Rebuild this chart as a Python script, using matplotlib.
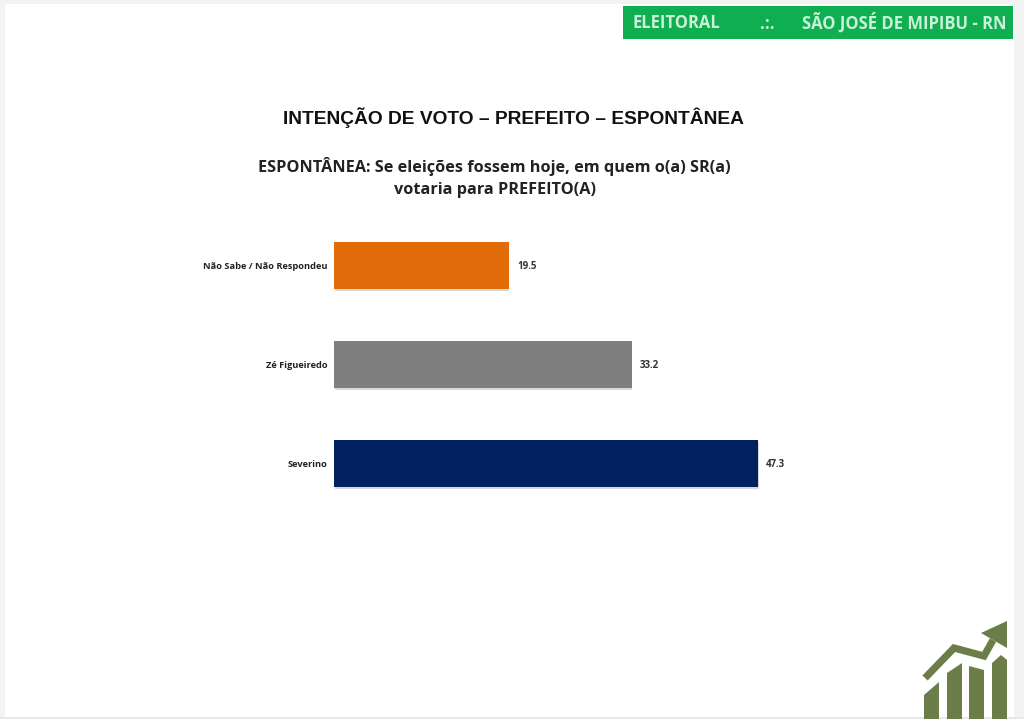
#!/usr/bin/env python3
"""Voting intention slide: spontaneous mayor poll, Sao Jose de Mipibu."""
import matplotlib
matplotlib.use("Agg")
import matplotlib.pyplot as plt
import matplotlib.patheffects as pe
from matplotlib.patches import Polygon, Rectangle

W, H = 1024, 719

categories = ["Severino", "Zé Figueiredo", "Não Sabe / Não Respondeu"]
values = [47.3, 33.2, 19.5]
colors = ["#002060", "#7f7f7f", "#e36c0a"]

title = "INTENÇÃO DE VOTO – PREFEITO – ESPONTÂNEA"
subtitle = "ESPONTÂNEA: Se eleições fossem hoje, em quem o(a) SR(a)\nvotaria para PREFEITO(A)"
banner_left = "ELEITORAL"
banner_mid = ".:."
banner_right = "SÃO JOSÉ DE MIPIBU - RN"

plt.rcParams["font.family"] = ["Open Sans", "DejaVu Sans"]

fig = plt.figure(figsize=(W / 100, H / 100), dpi=100, facecolor="white")

# page layer, works in image pixels (y down)
page = fig.add_axes([0, 0, 1, 1])
page.set_xlim(0, W)
page.set_ylim(H, 0)
page.axis("off")

# grey frame of the screenshot
page.add_patch(Rectangle((0, 0), 5, H, color="#f3f3f3", lw=0))
page.add_patch(Rectangle((1014, 0), 10, H, color="#f3f3f3", lw=0))
page.add_patch(Rectangle((0, 0), W, 4, color="#f3f3f3", lw=0))
page.add_patch(Rectangle((0, 717), W, 2, color="#e8e8e8", lw=0))

# green banner
page.add_patch(Rectangle((623, 6), 390, 33, color="#0fae50", lw=0))
page.text(632, 23, banner_left, color="#c9f2d8", fontsize=12, fontweight="bold", va="center")
page.text(767, 24, banner_mid, color="#c9f2d8", fontsize=12, fontweight="bold", va="center", ha="center")
page.text(1006, 23, banner_right, color="#c9f2d8", fontsize=12, fontweight="bold", va="center", ha="right")

page.text(513.5, 118, title, family=["Liberation Sans"], fontsize=13.8, fontweight="bold",
          color="#111111", ha="center", va="center")
page.text(494.5, 177.5, subtitle, fontsize=11.7, fontweight="bold", color="#222222",
          ha="center", va="center", linespacing=1.55)

# logo, bottom right
olive = "#6b7d48"
for pts in [
    [(924, 719), (924, 695), (939, 682), (939, 719)],
    [(947, 719), (947, 673), (962, 663), (962, 719)],
    [(969, 719), (969, 666), (984, 670), (984, 719)],
    [(992, 719), (992, 663), (1001, 655), (1007, 660), (1007, 719)],
]:
    page.add_patch(Polygon(pts, closed=True, color=olive, lw=0))
page.plot([925, 954, 984, 993], [678, 648, 656, 640], color=olive, lw=5.2,
          solid_joinstyle="miter", solid_capstyle="butt")
page.add_patch(Polygon([(981, 633), (1007, 621), (1007, 648)], closed=True, color=olive, lw=0))

# bar chart: 8.964 px per unit, bars 99 px apart
x0, x1 = 334, 800
y_top, y_bot = 216, 513
ax = fig.add_axes([x0 / W, 1 - y_bot / H, (x1 - x0) / W, (y_bot - y_top) / H])
ax.patch.set_alpha(0)
ax.set_xlim(0, (x1 - x0) / 8.964)
ax.set_ylim(-0.5, 2.5)
bars = ax.barh(range(len(values)), values, height=0.475, color=colors, lw=0)
for b in bars:
    b.set_path_effects([
        pe.SimplePatchShadow(offset=(0.5, -1.5), shadow_rgbFace="#aaaaaa", alpha=0.45),
        pe.Normal(),
    ])
for i, v in enumerate(values):
    ax.annotate(f"{v:.1f}", (v, i), xytext=(6, -0.5), textcoords="offset points",
                fontsize=7, fontweight="bold", color="#333333", va="center")
ax.set_yticks(range(len(categories)), categories)
ax.tick_params(axis="y", length=0, pad=4.5, labelsize=6.7, labelcolor="#222222")
for lab in ax.get_yticklabels():
    lab.set_fontweight("bold")
ax.set_xticks([])
for s in ax.spines.values():
    s.set_visible(False)

fig.savefig("out.png", dpi=100)
